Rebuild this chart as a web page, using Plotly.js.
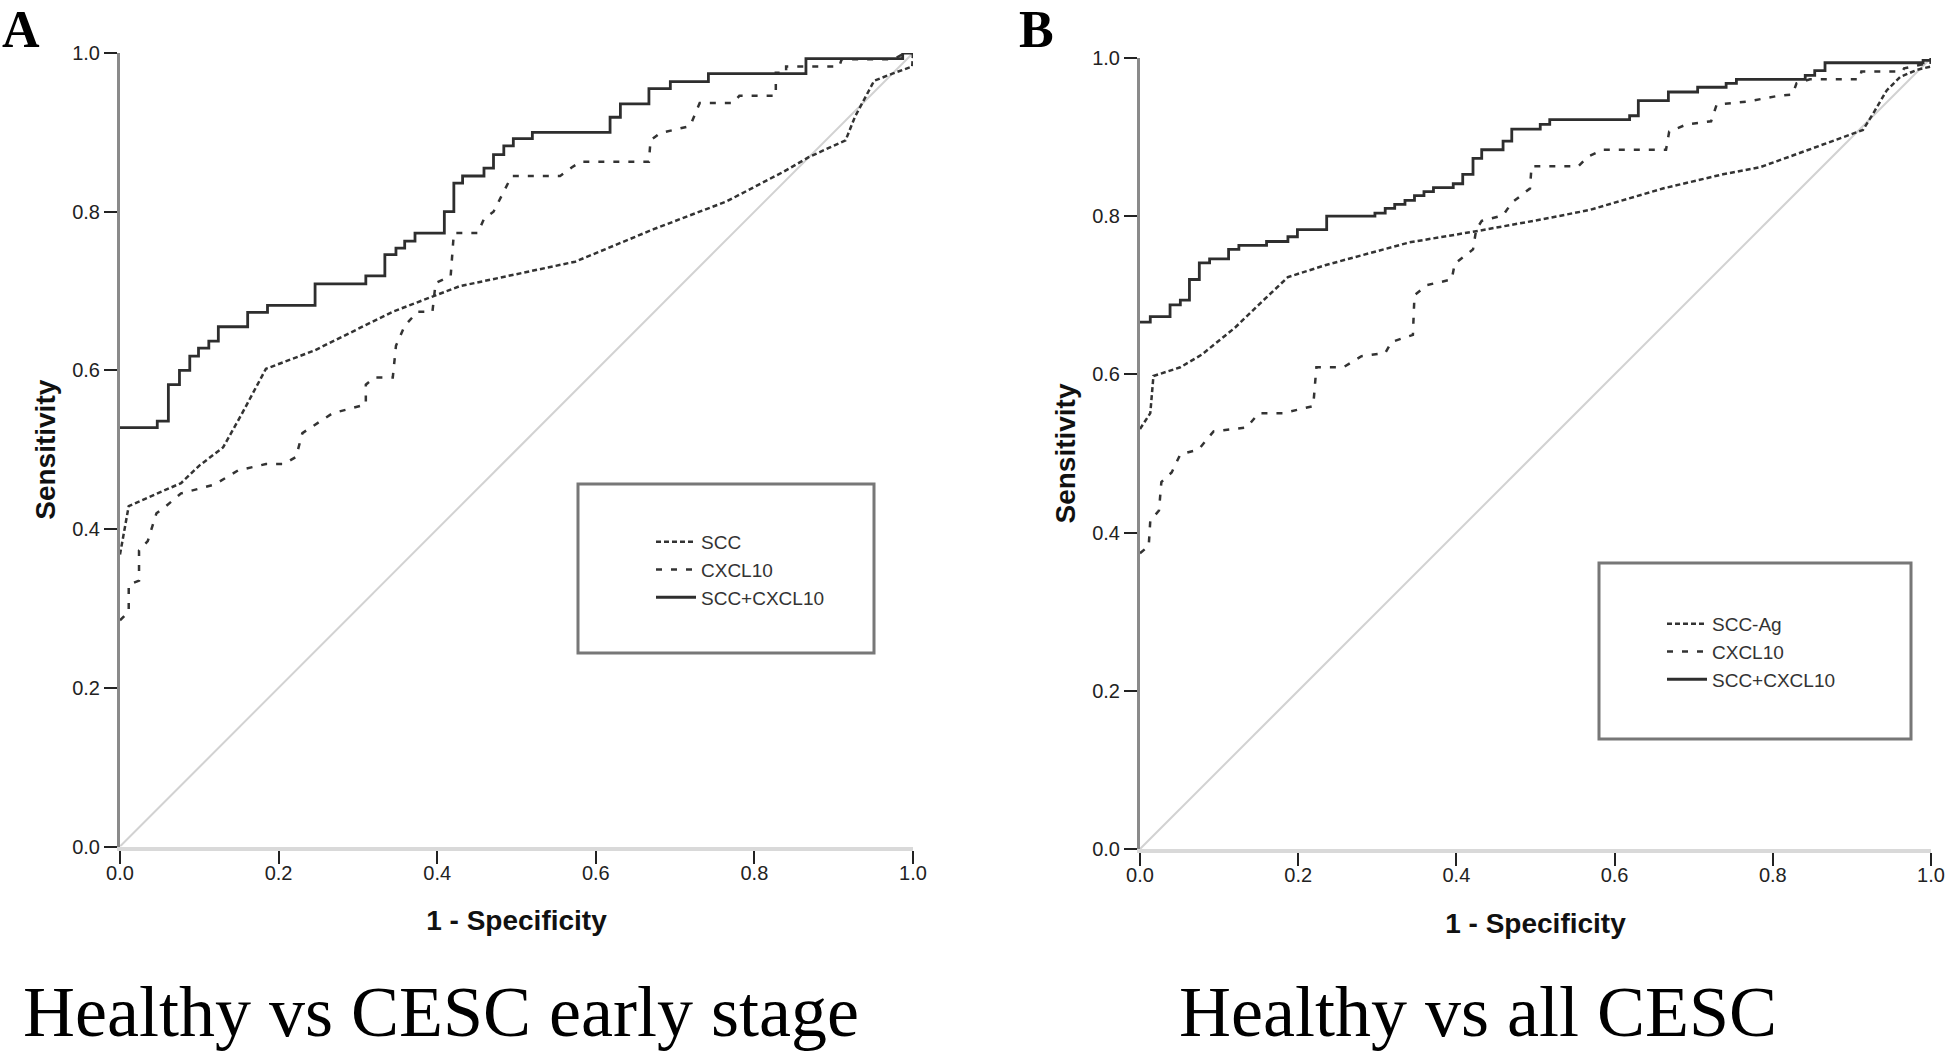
<!DOCTYPE html>
<html>
<head>
<meta charset="utf-8">
<script src="https://cdn.plot.ly/plotly-3.0.1.min.js"></script>
<style>
  html, body { margin: 0; padding: 0; background: #ffffff; }
  #chart { width: 1945px; height: 1051px; }
</style>
</head>
<body>
<div id="chart"></div>
<script>
// ---------------- DATA ----------------
// Panel A: Healthy vs CESC early stage
const A_scc_x   = [0, 0.011, 0.077, 0.10, 0.130, 0.153, 0.184, 0.245, 0.344, 0.428, 0.574, 0.673, 0.765, 0.836, 0.869, 0.915, 0.927, 0.940, 0.951, 0.974, 0.999, 1];
const A_scc_y   = [0.368, 0.429, 0.458, 0.480, 0.503, 0.544, 0.602, 0.625, 0.674, 0.706, 0.737, 0.778, 0.813, 0.850, 0.869, 0.890, 0.920, 0.945, 0.965, 0.974, 0.983, 1];

const A_cxcl_x  = [0, 0.011, 0.011, 0.024, 0.024, 0.035, 0.046, 0.058, 0.077, 0.119, 0.149, 0.184, 0.207, 0.222, 0.230, 0.268, 0.310, 0.310, 0.321, 0.344, 0.348, 0.359, 0.375, 0.394, 0.398, 0.417, 0.421, 0.451, 0.459, 0.471, 0.494, 0.555, 0.570, 0.581, 0.667, 0.669, 0.681, 0.719, 0.731, 0.773, 0.781, 0.827, 0.827, 0.840, 0.840, 0.907, 0.910, 0.975, 0.990, 1];
const A_cxcl_y  = [0.285, 0.296, 0.330, 0.335, 0.373, 0.385, 0.420, 0.429, 0.445, 0.456, 0.474, 0.482, 0.482, 0.491, 0.521, 0.546, 0.557, 0.582, 0.591, 0.591, 0.631, 0.656, 0.674, 0.674, 0.710, 0.719, 0.773, 0.773, 0.791, 0.800, 0.845, 0.845, 0.856, 0.863, 0.863, 0.890, 0.899, 0.908, 0.937, 0.937, 0.946, 0.946, 0.975, 0.975, 0.983, 0.983, 0.992, 0.992, 1.0, 1];

// step curve (x where the step occurs, new sensitivity level)
const A_comb_x  = [0, 0.047, 0.061, 0.075, 0.088, 0.099, 0.112, 0.124, 0.161, 0.186, 0.246, 0.310, 0.334, 0.348, 0.359, 0.372, 0.409, 0.421, 0.432, 0.459, 0.471, 0.484, 0.496, 0.520, 0.618, 0.631, 0.667, 0.694, 0.742, 0.865, 0.987, 1.0];
const A_comb_y  = [0.528, 0.536, 0.582, 0.600, 0.618, 0.628, 0.637, 0.655, 0.673, 0.682, 0.709, 0.719, 0.746, 0.754, 0.763, 0.773, 0.800, 0.836, 0.845, 0.855, 0.872, 0.883, 0.892, 0.900, 0.919, 0.936, 0.955, 0.964, 0.974, 0.993, 1.0, 1.0];

// Panel B: Healthy vs all CESC
const B_scc_x   = [0, 0.013, 0.017, 0.051, 0.078, 0.120, 0.150, 0.187, 0.234, 0.295, 0.341, 0.425, 0.508, 0.569, 0.661, 0.737, 0.784, 0.826, 0.868, 0.914, 0.927, 0.944, 0.961, 0.982, 0.999, 1];
const B_scc_y   = [0.531, 0.551, 0.598, 0.609, 0.625, 0.659, 0.688, 0.723, 0.738, 0.754, 0.767, 0.781, 0.796, 0.808, 0.835, 0.853, 0.862, 0.877, 0.892, 0.909, 0.930, 0.959, 0.976, 0.985, 0.989, 1];

const B_cxcl_x  = [0, 0.011, 0.013, 0.024, 0.027, 0.040, 0.051, 0.074, 0.093, 0.135, 0.150, 0.181, 0.219, 0.223, 0.257, 0.280, 0.310, 0.318, 0.345, 0.347, 0.363, 0.394, 0.398, 0.421, 0.425, 0.432, 0.459, 0.470, 0.493, 0.495, 0.554, 0.566, 0.585, 0.665, 0.669, 0.691, 0.722, 0.729, 0.768, 0.806, 0.825, 0.830, 0.847, 0.910, 0.912, 0.964, 0.966, 0.990, 1];
const B_cxcl_y  = [0.374, 0.383, 0.415, 0.428, 0.464, 0.476, 0.499, 0.505, 0.528, 0.533, 0.551, 0.551, 0.560, 0.609, 0.609, 0.623, 0.627, 0.641, 0.650, 0.700, 0.713, 0.720, 0.740, 0.758, 0.783, 0.794, 0.801, 0.817, 0.835, 0.863, 0.863, 0.875, 0.884, 0.884, 0.907, 0.916, 0.920, 0.941, 0.945, 0.952, 0.954, 0.968, 0.973, 0.973, 0.983, 0.983, 0.987, 0.992, 1];

const B_comb_x  = [0, 0.013, 0.038, 0.051, 0.0625, 0.075, 0.088, 0.112, 0.125, 0.160, 0.187, 0.199, 0.236, 0.297, 0.310, 0.322, 0.335, 0.347, 0.359, 0.371, 0.396, 0.408, 0.421, 0.432, 0.459, 0.470, 0.506, 0.518, 0.619, 0.630, 0.668, 0.705, 0.741, 0.754, 0.841, 0.853, 0.866, 0.990, 1.0];
const B_comb_y  = [0.666, 0.673, 0.688, 0.694, 0.720, 0.741, 0.746, 0.758, 0.763, 0.768, 0.774, 0.783, 0.800, 0.804, 0.810, 0.815, 0.820, 0.826, 0.831, 0.836, 0.841, 0.853, 0.873, 0.884, 0.895, 0.910, 0.916, 0.922, 0.927, 0.946, 0.957, 0.963, 0.968, 0.973, 0.978, 0.984, 0.994, 0.997, 1.0];

const refLine   = [0, 1];
const namesA    = ["SCC", "CXCL10", "SCC+CXCL10"];
const namesB    = ["SCC-Ag", "CXCL10", "SCC+CXCL10"];
const panelTitles = ["Healthy vs CESC early stage", "Healthy vs all CESC"];
const panelLetters = ["A", "B"];
const tickVals  = [0, 0.2, 0.4, 0.6, 0.8, 1.0];
const tickText  = ["0.0", "0.2", "0.4", "0.6", "0.8", "1.0"];

// ---------------- LAYOUT HELPERS ----------------
const W = 1945, H = 1051;
const px = v => v / W;
const py = v => (H - v) / H;

const sans = "Liberation Sans, Arial, sans-serif";
const serif = "Liberation Serif, Times New Roman, serif";
const ink = "#333333";

const denseDash = "5px,3px";
const sparseDash = "6px,9px";

function traces(sx, sy, cx, cy, kx, ky, names, xa, ya, leg) {
  return [
    {x: refLine, y: refLine, xaxis: xa, yaxis: ya, mode: "lines", showlegend: false, hoverinfo: "skip",
     line: {color: "#d2d2d2", width: 2}},
    {x: sx, y: sy, xaxis: xa, yaxis: ya, mode: "lines", name: names[0], legend: leg,
     line: {color: ink, width: 2.5, dash: denseDash}},
    {x: cx, y: cy, xaxis: xa, yaxis: ya, mode: "lines", name: names[1], legend: leg,
     line: {color: ink, width: 2.5, dash: sparseDash}},
    {x: kx, y: ky, xaxis: xa, yaxis: ya, mode: "lines", name: names[2], legend: leg,
     line: {color: "#2e2e2e", width: 2.8, shape: "hv"}}
  ];
}

const data = [].concat(
  traces(A_scc_x, A_scc_y, A_cxcl_x, A_cxcl_y, A_comb_x, A_comb_y, namesA, "x", "y", "legend"),
  traces(B_scc_x, B_scc_y, B_cxcl_x, B_cxcl_y, B_comb_x, B_comb_y, namesB, "x2", "y2", "legend2")
);

function xAxis(domain, anchor) {
  return {
    domain: domain, anchor: anchor, range: [0, 1], showgrid: false, zeroline: false,
    showline: true, linecolor: "#d9d9d9", linewidth: 4,
    ticks: "outside", ticklen: 13, tickwidth: 2, tickcolor: "#222",
    tickvals: tickVals, ticktext: tickText, ticklabelstandoff: -8,
    tickfont: {family: sans, size: 20, color: "#222"},
    title: {text: "1 - Specificity", font: {family: sans, size: 28, color: "#111", weight: "bold"}, standoff: 29},
    fixedrange: true
  };
}
function yAxis(domain, anchor) {
  return {
    domain: domain, anchor: anchor, range: [0, 1], showgrid: false, zeroline: false,
    showline: true, linecolor: "#8a8a8a", linewidth: 3,
    ticks: "outside", ticklen: 13, tickwidth: 2, tickcolor: "#222",
    tickvals: tickVals, ticktext: tickText,
    tickfont: {family: sans, size: 20, color: "#222"},
    title: {text: "Sensitivity", font: {family: sans, size: 28, color: "#111", weight: "bold"}, standoff: 9},
    fixedrange: true
  };
}

const legendCommon = {
  bgcolor: "rgba(0,0,0,0)", borderwidth: 0, xanchor: "left", yanchor: "top",
  font: {family: sans, size: 19, color: ink}, itemwidth: 40, tracegroupgap: 0
};

const layout = {
  width: W, height: H,
  margin: {l: 0, r: 0, t: 0, b: 0},
  paper_bgcolor: "#ffffff", plot_bgcolor: "#ffffff",
  xaxis:  xAxis([px(120), px(913)], "y"),
  yaxis:  yAxis([py(846.5), py(53)], "x"),
  xaxis2: xAxis([px(1140), px(1931)], "y2"),
  yaxis2: yAxis([py(849), py(58)], "x2"),
  legend:  Object.assign({}, legendCommon, {x: px(651), y: py(523)}),
  legend2: Object.assign({}, legendCommon, {x: px(1662), y: py(605)}),
  shapes: [
    {type: "rect", xref: "paper", yref: "paper", x0: px(578), x1: px(874), y0: py(653), y1: py(484),
     line: {color: "#777777", width: 3}},
    {type: "rect", xref: "paper", yref: "paper", x0: px(1599), x1: px(1911), y0: py(739), y1: py(563),
     line: {color: "#777777", width: 3}}
  ],
  annotations: [
    {text: panelTitles[0], xref: "paper", yref: "paper", x: px(441), y: py(1012), xanchor: "center", yanchor: "middle",
     showarrow: false, font: {family: serif, size: 72, color: "#000"}},
    {text: panelTitles[1], xref: "paper", yref: "paper", x: px(1478), y: py(1012), xanchor: "center", yanchor: "middle",
     showarrow: false, font: {family: serif, size: 72, color: "#000"}},
    {text: panelLetters[0], xref: "paper", yref: "paper", x: px(1), y: 1, xanchor: "left", yanchor: "top",
     showarrow: false, borderpad: 0, font: {family: serif, size: 52, color: "#000", weight: "bold"}},
    {text: panelLetters[1], xref: "paper", yref: "paper", x: px(1018), y: 1, xanchor: "left", yanchor: "top",
     showarrow: false, borderpad: 0, font: {family: serif, size: 52, color: "#000", weight: "bold"}}
  ],
  showlegend: true
};

Plotly.newPlot("chart", data, layout, {displayModeBar: false, staticPlot: true});
</script>
</body>
</html>
